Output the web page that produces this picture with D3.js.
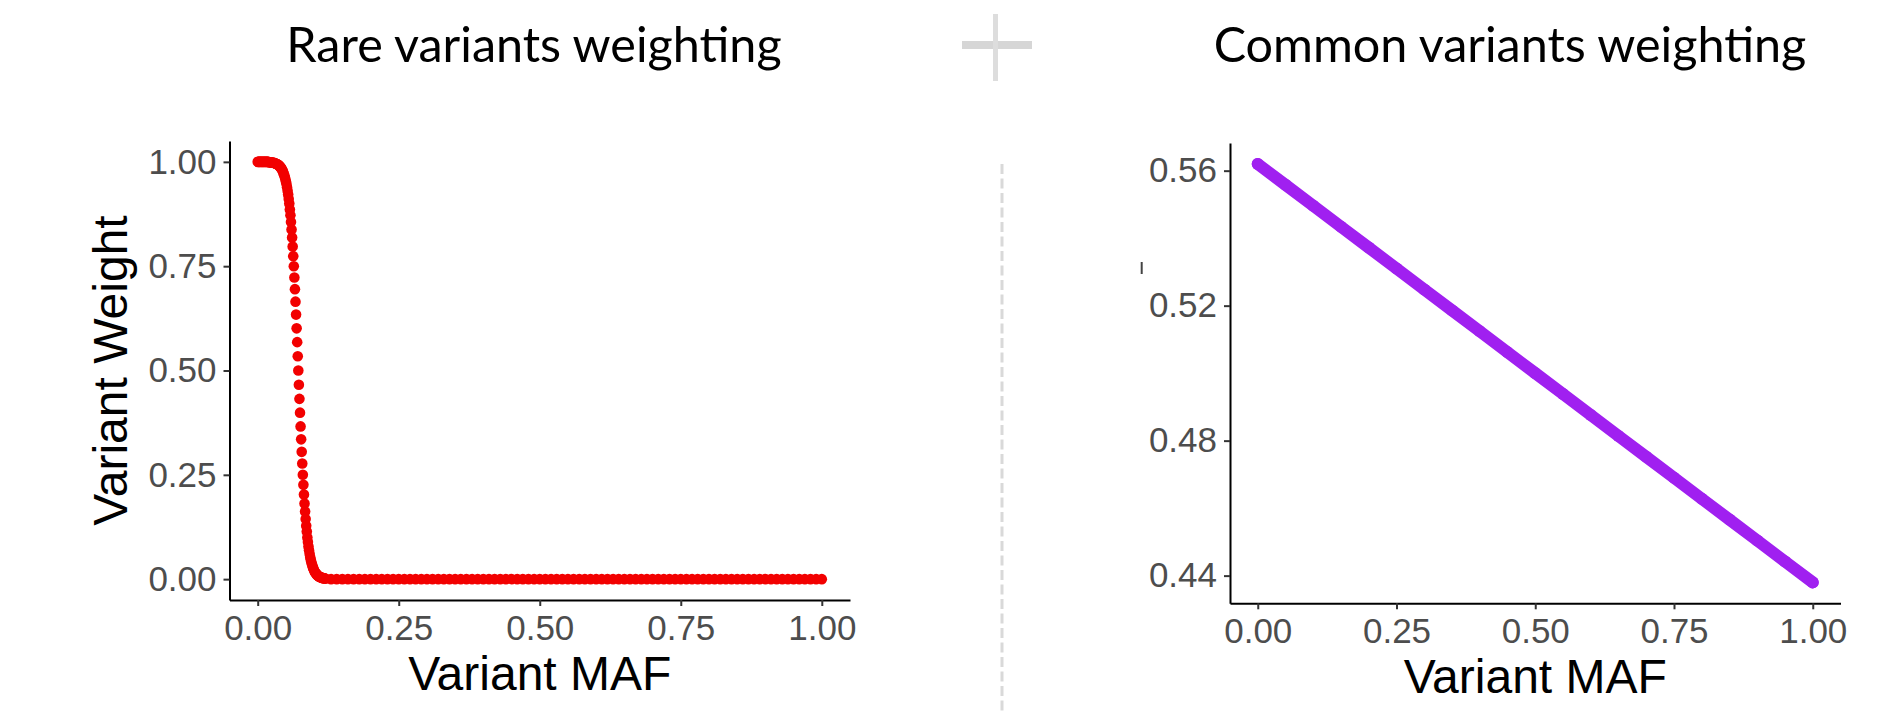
<!DOCTYPE html>
<html>
<head>
<meta charset="utf-8">
<script src="https://cdn.jsdelivr.net/npm/d3@7"></script>
<style>
  body { margin: 0; background: #fff; }
  svg { display: block; }
</style>
</head>
<body>
<script>
var width = 1890,
    height = 713;

var titles = ["Rare variants weighting", "Common variants weighting"];
var xTitle = "Variant MAF";
var yTitle = "Variant Weight";
var xTicks = [0, 0.25, 0.5, 0.75, 1];
var rareYTicks = [0, 0.25, 0.5, 0.75, 1];
var commonYTicks = [0.44, 0.48, 0.52, 0.56];

// rare variants: dense near zero, read dot by dot; the flat tail sampled coarser
var rareMaf = [
  0.000,0.001,0.002,0.003,0.004,0.005,0.006,0.007,0.008,0.009,
  0.010,0.011,0.012,0.013,0.014,0.015,0.016,0.017,0.018,0.019,
  0.020,0.021,0.022,0.023,0.024,0.025,0.026,0.027,0.028,0.029,
  0.030,0.031,0.032,0.033,0.034,0.035,0.036,0.037,0.038,0.039,
  0.040,0.041,0.042,0.043,0.044,0.045,0.046,0.047,0.048,0.049,
  0.050,0.051,0.052,0.053,0.054,0.055,0.056,0.057,0.058,0.059,
  0.060,0.061,0.062,0.063,0.064,0.065,0.066,0.067,0.068,0.069,
  0.070,0.071,0.072,0.073,0.074,0.075,0.076,0.077,0.078,0.079,
  0.080,0.081,0.082,0.083,0.084,0.085,0.086,0.087,0.088,0.089,
  0.090,0.091,0.092,0.093,0.094,0.095,0.096,0.097,0.098,0.099,
  0.100,0.101,0.102,0.103,0.104,0.105,0.106,0.107,0.108,0.109,
  0.110,0.111,0.112,0.113,0.114,0.115,0.116,0.117,0.118,0.119,
  0.120,
  0.13,0.14,0.15,0.16,0.17,0.18,0.19,0.20,0.21,0.22,0.23,0.24,0.25,
  0.26,0.27,0.28,0.29,0.30,0.31,0.32,0.33,0.34,0.35,0.36,0.37,0.38,
  0.39,0.40,0.41,0.42,0.43,0.44,0.45,0.46,0.47,0.48,0.49,0.50,0.51,
  0.52,0.53,0.54,0.55,0.56,0.57,0.58,0.59,0.60,0.61,0.62,0.63,0.64,
  0.65,0.66,0.67,0.68,0.69,0.70,0.71,0.72,0.73,0.74,0.75,0.76,0.77,
  0.78,0.79,0.80,0.81,0.82,0.83,0.84,0.85,0.86,0.87,0.88,0.89,0.90,
  0.91,0.92,0.93,0.94,0.95,0.96,0.97,0.98,0.99,1.00
];
var rareWeight = [
  1.000,1.000,1.000,1.000,1.000,1.000,1.000,1.000,1.000,1.000,
  1.000,1.000,1.000,1.000,1.000,1.000,1.000,1.000,1.000,1.000,
  0.999,0.999,0.999,0.999,0.999,0.998,0.998,0.998,0.998,0.998,
  0.997,0.996,0.996,0.995,0.995,0.994,0.993,0.992,0.991,0.989,
  0.988,0.986,0.984,0.982,0.979,0.976,0.972,0.968,0.964,0.959,
  0.953,0.947,0.939,0.931,0.922,0.911,0.900,0.886,0.872,0.856,
  0.838,0.819,0.797,0.774,0.750,0.723,0.695,0.665,0.634,0.601,
  0.568,0.534,0.500,0.466,0.432,0.399,0.366,0.335,0.305,0.277,
  0.250,0.226,0.203,0.181,0.162,0.144,0.128,0.114,0.100,0.089,
  0.078,0.069,0.061,0.053,0.047,0.041,0.036,0.032,0.028,0.024,
  0.021,0.018,0.016,0.014,0.012,0.011,0.009,0.008,0.007,0.006,
  0.005,0.005,0.004,0.004,0.003,0.003,0.002,0.002,0.002,0.002,
  0.001,
  0,0,0,0,0,0,0,0,0,0,0,0,0,
  0,0,0,0,0,0,0,0,0,0,0,0,0,
  0,0,0,0,0,0,0,0,0,0,0,0,0,
  0,0,0,0,0,0,0,0,0,0,0,0,0,
  0,0,0,0,0,0,0,0,0,0,0,0,0,
  0,0,0,0,0,0,0,0,0,0,0,0,0,
  0,0,0,0,0,0,0,0,0,0
];

var commonMaf = [0, 0.05, 0.10, 0.15, 0.20, 0.25, 0.30, 0.35, 0.40, 0.45, 0.50,
                 0.55, 0.60, 0.65, 0.70, 0.75, 0.80, 0.85, 0.90, 0.95, 1.00];
var commonWeight = [0.5620, 0.5558, 0.5496, 0.5434, 0.5372, 0.5310, 0.5248, 0.5186, 0.5124, 0.5062, 0.5000,
                    0.4938, 0.4876, 0.4814, 0.4752, 0.4690, 0.4628, 0.4566, 0.4504, 0.4442, 0.4380];

var svg = d3.select("body").append("svg")
    .attr("width", width)
    .attr("height", height);

// header: titles and the plus sign
svg.selectAll("text.title")
    .data(titles)
  .enter().append("text")
    .attr("class", "title")
    .attr("x", function(d, i) { return i == 0 ? 534 : 1510; })
    .attr("y", 62)
    .attr("text-anchor", "middle")
    .style("font-family", "Lato, 'Open Sans', sans-serif")
    .style("font-size", "48.5px")
    .style("fill", "#000")
    .text(function(d) { return d; });

svg.append("rect").attr("x", 962).attr("y", 41).attr("width", 70).attr("height", 8).attr("fill", "#d6d6d6");
svg.append("rect").attr("x", 993).attr("y", 14).attr("width", 5).attr("height", 67).attr("fill", "#dddddd");

// dashed separator between the two panels
svg.append("line")
    .attr("x1", 1002).attr("x2", 1002)
    .attr("y1", 164).attr("y2", height)
    .attr("stroke", "#d9d9d9")
    .attr("stroke-width", 3)
    .attr("stroke-dasharray", "10,4.5");

// stray mark left of the right panel
svg.append("line")
    .attr("x1", 1141.7).attr("x2", 1141.7)
    .attr("y1", 262).attr("y2", 274)
    .attr("stroke", "#444")
    .attr("stroke-width", 2);

function styleAxis(g) {
  g.select(".domain").attr("stroke", "#000").attr("stroke-width", 2);
  g.selectAll(".tick line").attr("stroke", "#333").attr("stroke-width", 2);
  g.selectAll(".tick text")
      .attr("fill", "#4d4d4d")
      .style("font-family", "'Liberation Sans', Arial, sans-serif")
      .style("font-size", "35px");
}

function panel(p) {
  var x = d3.scaleLinear().domain(p.xDomain).range(p.xRange);
  var y = d3.scaleLinear().domain(p.yDomain).range(p.yRange);
  var g = svg.append("g");

  if (p.line) {
    g.append("path")
        .datum(d3.range(p.maf.length))
        .attr("fill", "none")
        .attr("stroke", p.color)
        .attr("stroke-width", p.r * 2)
        .attr("stroke-linecap", "round")
        .attr("stroke-linejoin", "round")
        .attr("d", d3.line()
            .x(function(i) { return x(p.maf[i]); })
            .y(function(i) { return y(p.weight[i]); }));
  }

  g.selectAll("circle")
      .data(d3.range(p.maf.length))
    .enter().append("circle")
      .attr("cx", function(i) { return x(p.maf[i]); })
      .attr("cy", function(i) { return y(p.weight[i]); })
      .attr("r", p.r)
      .attr("fill", p.color);

  var ax = g.append("g")
      .attr("transform", "translate(0," + p.yRange[0] + ")")
      .call(d3.axisBottom(x).tickValues(xTicks).tickFormat(d3.format(".2f"))
          .tickSize(6).tickSizeOuter(0).tickPadding(9));
  styleAxis(ax);

  var ay = g.append("g")
      .attr("transform", "translate(" + p.xRange[0] + ",0)")
      .call(d3.axisLeft(y).tickValues(p.yTicks).tickFormat(d3.format(".2f"))
          .tickSize(6).tickSizeOuter(0).tickPadding(7));
  styleAxis(ay);

  g.append("text")
      .attr("x", (p.xRange[0] + p.xRange[1]) / 2)
      .attr("y", p.yRange[0] + 90)
      .attr("text-anchor", "middle")
      .style("font-family", "'Liberation Sans', Arial, sans-serif")
      .style("font-size", "48px")
      .style("fill", "#000")
      .text(xTitle);

  if (p.yTitle) {
    g.append("text")
        .attr("transform", "translate(" + (p.xRange[0] - 103) + "," + (p.yRange[0] + p.yRange[1]) / 2 + ") rotate(-90)")
        .attr("text-anchor", "middle")
        .style("font-family", "'Liberation Sans', Arial, sans-serif")
        .style("font-size", "48px")
        .style("fill", "#000")
        .text(p.yTitle);
  }
}

panel({
  maf: rareMaf, weight: rareWeight,
  xDomain: [-0.05, 1.05], xRange: [229.5, 850],
  yDomain: [-0.05, 1.05], yRange: [600, 141],
  yTicks: rareYTicks, color: "#f20000", r: 5.3, line: false,
  yTitle: yTitle
});

panel({
  maf: commonMaf, weight: commonWeight,
  xDomain: [-0.05, 1.05], xRange: [1230, 1840.5],
  yDomain: [0.4318, 0.5682], yRange: [603.3, 143],
  yTicks: commonYTicks, color: "#a020f0", r: 6, line: true,
  yTitle: null
});
</script>
</body>
</html>
